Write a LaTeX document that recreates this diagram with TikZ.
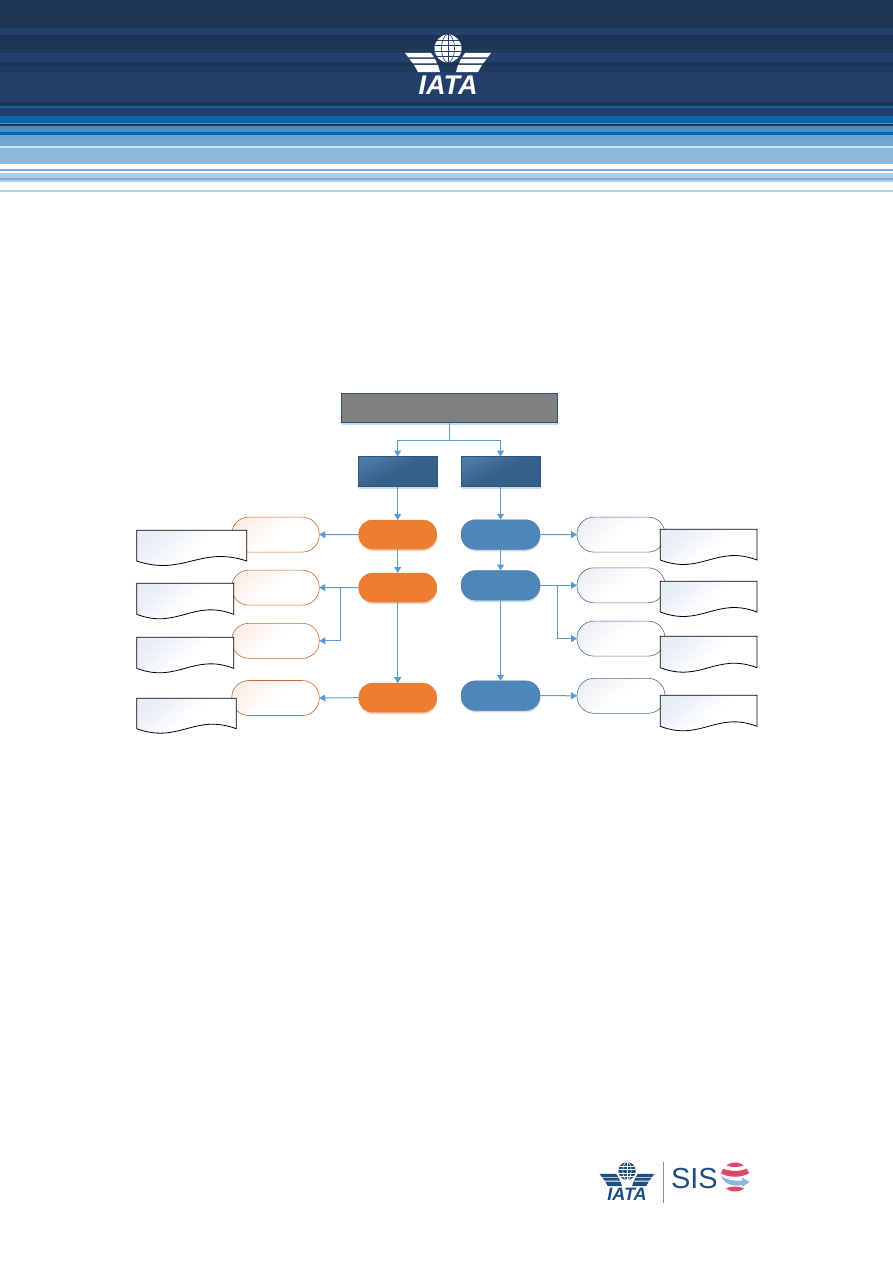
\documentclass[tikz,border=0pt]{standalone}
\usepackage{fontspec}
\setmainfont{Liberation Sans}
\usetikzlibrary{arrows.meta,calc,shadows}

\definecolor{bandDark}{HTML}{1B3552}
\definecolor{bandNavy}{HTML}{224069}
\definecolor{bandMid}{HTML}{1F3A5F}
\definecolor{bandSea}{HTML}{0A66A8}
\definecolor{bandSky}{HTML}{4A8CC4}
\definecolor{bandSoft}{HTML}{74A4D0}
\definecolor{bandPale}{HTML}{8BB8DC}
\definecolor{bandThin}{HTML}{B0D0EA}
\definecolor{bandLine}{HTML}{7FA8D4}
\definecolor{linkBlue}{HTML}{5B9BD5}
\definecolor{edgeBlue}{HTML}{2E5579}
\definecolor{boxTop}{HTML}{4A7AA6}
\definecolor{boxLow}{HTML}{356089}
\definecolor{termBlue}{HTML}{4E86BB}
\definecolor{termOrange}{HTML}{ED7D31}
\definecolor{paleOrange}{HTML}{FDEEE8}
\definecolor{paleBlue}{HTML}{EFF1F5}
\definecolor{paperBlue}{HTML}{E8EEF8}
\definecolor{logoBlue}{HTML}{1F4E85}
\definecolor{sisPink}{HTML}{E0456B}
\definecolor{sisSky}{HTML}{8DB8DD}

\tikzset{
    allbox/.style={inner sep=0pt, outer sep=0pt},
    softshade/.style={drop shadow={shadow xshift=0.5pt, shadow yshift=-2pt, fill=#1, opacity=.35}},
    titlebox/.style={allbox, draw=edgeBlue, line width=0.8pt, fill=gray,
        minimum width=216pt, minimum height=29pt, softshade=linkBlue},
    sidebox/.style={allbox, draw=edgeBlue, line width=0.8pt, top color=boxTop, bottom color=boxLow,
        middle color=boxLow, shading angle=25, minimum width=79pt, minimum height=30pt, softshade=linkBlue},
    orangeterm/.style={allbox, draw=termOrange!85!gray, line width=0.5pt, fill=termOrange,
        rounded corners=14pt, minimum width=78pt, minimum height=29pt, softshade=termOrange},
    blueterm/.style={allbox, draw=edgeBlue!80!white, line width=0.5pt, fill=termBlue,
        rounded corners=14.5pt, minimum width=79pt, minimum height=29.5pt, softshade=linkBlue},
    orangepale/.style={allbox, draw=termOrange!85!black, line width=0.6pt,
        top color=paleOrange, bottom color=white, middle color=white, shading angle=40,
        rounded corners=17pt, minimum width=87.5pt, minimum height=35pt},
    bluepale/.style={allbox, draw=edgeBlue!85!white, line width=0.6pt,
        top color=paleBlue, bottom color=white, middle color=white, shading angle=40,
        rounded corners=17pt, minimum width=88pt, minimum height=35pt},
    docpaper/.style={draw=black, line width=0.8pt, top color=paperBlue,
        bottom color=white, middle color=white, shading angle=40},
    link/.style={draw=linkBlue, line width=1pt, -{Triangle[length=6pt,width=7pt]}},
}

% document shape: left, right, top, bottom of the side edges
\newcommand{\docshape}[4]{
    \path[docpaper] (#1,#3) -- (#2,#3) -- (#2,#4)
        .. controls ($(#1,#4)!0.58!(#2,#4)+(0,-15.5)$) and ($(#1,#4)!0.42!(#2,#4)+(0,15.5)$) .. (#1,#4) -- cycle;
}

% globe and wings: centre x, centre y, scale, main colour, back colour, font size
\newcommand{\iatalogo}[6]{
    \begin{scope}[shift={(#1,#2)}, scale=#3]
        \foreach \s in {1,-1} {
            \begin{scope}[xscale=\s]
                \fill[#4] (-43,4.5) -- (-17,4.5) -- (-14,9) -- (-39.5,9) -- cycle;
                \fill[#4] (-38.5,10.5) -- (-13,10.5) -- (-11,15) -- (-35,15) -- cycle;
                \fill[#4] (-34,16.5) -- (-10,16.5) -- (-8,23.5) -- (-30,23.5) -- cycle;
            \end{scope}
        }
        \fill[#4] (0,0) ellipse (13.5 and 14);
        \draw[#5, line width=0.6pt] (0,0) ellipse (6.5 and 14);
        \draw[#5, line width=0.6pt] (0,-14) -- (0,14);
        \foreach \h in {-8,-3,3,8} {
            \draw[#5, line width=0.6pt] ({-sqrt(13.5*13.5-\h*\h)},\h) -- ({sqrt(13.5*13.5-\h*\h)},\h);
        }
        \node[allbox, text=#4, font=\fontsize{#6}{#6}\selectfont\bfseries\itshape] (logotext) at (0,37) {IATA};
    \end{scope}
}

\begin{document}
\begin{tikzpicture}[x=1pt, y=-1pt]
    \useasboundingbox (0,0) rectangle (893,1263);

    % Header stripes
    \foreach \ya/\yb/\col in {0/28/bandDark, 28/35/bandNavy, 35/49/bandDark, 49/53/bandMid,
        53/62/bandNavy, 62/66/bandDark, 66/72/bandMid, 72/102/bandNavy, 102/106/bandDark,
        106/108/bandSea, 108/116/bandNavy, 116/123/bandSea, 123/124/bandSky, 124/126/bandDark,
        126/132/bandSky, 132/135/bandSea, 135/139/bandSky!80!white, 139/146/bandSoft,
        146/147.5/bandThin!50!white, 147.5/163.5/bandPale, 169/170.5/bandLine, 173/178/bandThin,
        178/180/bandLine, 180/181.5/bandThin, 190/191.5/bandThin} {
        \fill[\col] (0,\ya) rectangle (893,\yb);
    }

    % Logo in the header
    \iatalogo{448}{48.5}{1}{white}{bandNavy}{27}

    % Top boxes
    \node[titlebox] (title) at (449.4,408) {};
    \node[sidebox] (boxL) at (397.7,471.5) {};
    \node[sidebox] (boxR) at (500.5,471.5) {};

    % Left column
    \node[orangeterm] (ol1) at (397.7,534.5) {};
    \node[orangeterm] (ol2) at (397.7,587.5) {};
    \node[orangeterm] (ol3) at (397.7,697.7) {};
    \node[orangepale] (pl1) at (275.5,534.6) {};
    \node[orangepale] (pl2) at (275.5,587.6) {};
    \node[orangepale] (pl3) at (275.5,640.8) {};
    \node[orangepale] (pl4) at (275.5,698) {};

    % Right column
    \node[blueterm] (br1) at (500.5,534.5) {};
    \node[blueterm] (br2) at (500.5,585.3) {};
    \node[blueterm] (br3) at (500.5,695.6) {};
    \node[bluepale] (pr1) at (621,534.6) {};
    \node[bluepale] (pr2) at (621,585.3) {};
    \node[bluepale] (pr3) at (621,638.6) {};
    \node[bluepale] (pr4) at (621,695.8) {};

    % Connectors
    \draw[link] (title.south) -- ++(0,17.5) -| (boxL.north);
    \draw[link] (title.south) -- ++(0,17.5) -| (boxR.north);
    \draw[link] (boxL.south) -- (ol1.north);
    \draw[link] (boxR.south) -- (br1.north);
    \draw[link] (ol1.south) -- (ol2.north);
    \draw[link] (ol2.south) -- (ol3.north);
    \draw[link] (br1.south) -- (br2.north);
    \draw[link] (br2.south) -- (br3.north);
    \draw[link] (ol1.west) -- (pl1.east);
    \draw[link] (ol2.west) -- (pl2.east);
    \draw[link] (ol2.west) -- ++(-18.5,0) |- (pl3.east);
    \draw[link] (ol3.west) -- (pl4.east);
    \draw[link] (br1.east) -- (pr1.west);
    \draw[link] (br2.east) -- (pr2.west);
    \draw[link] (br2.east) -- ++(17.8,0) |- (pr3.west);
    \draw[link] (br3.east) -- (pr4.west);

    % Documents
    \foreach \xa/\xb/\ya/\yb in {136.7/246.7/530.3/561, 136.7/233.7/583.3/614.3,
        136.7/233.7/637.3/668.3, 136.7/236.3/698.3/728.7, 660.3/757/529.3/560,
        660.3/757/581.3/612, 660.3/757/636.3/667.7, 660.3/757/695.3/726.3} {
        \docshape{\xa}{\xb}{\ya}{\yb}
    }

    % Footer logos
    \iatalogo{627}{1171}{0.64}{logoBlue}{white}{18}
    \draw[draw=bandLine!80!logoBlue, line width=1pt] (663.3,1161.7) -- (663.3,1202.7);
    \node[allbox, text=logoBlue, font=\fontsize{29}{29}\selectfont, anchor=west] (sisname) at (671,1178.5) {SIS};

    % SIS globe
    \begin{scope}
        \clip (735,1177) circle (14.5);
        \fill[sisPink] (735,1158) ellipse (15 and 9);
        \fill[sisPink] (720,1167.5) .. controls (730,1172) and (740,1172) .. (750,1167.5) -- (750,1173) .. controls (740,1178) and (730,1178) .. (720,1173) -- cycle;
        \fill[sisPink] (735,1193) ellipse (13 and 6.5);
    \end{scope}
    \fill[sisSky] (721,1176) .. controls (726,1180) and (734,1181) .. (742,1180.5) -- (742,1177.5) -- (749.5,1182) -- (742,1187) -- (742,1185) .. controls (733,1187) and (724,1184) .. (721,1176) -- cycle;
\end{tikzpicture}
\end{document}
